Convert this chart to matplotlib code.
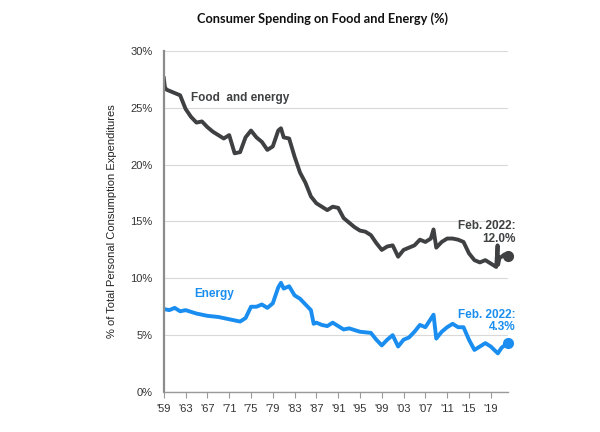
import matplotlib.pyplot as plt

plt.rcParams['font.family'] = ['Liberation Sans', 'DejaVu Sans']

# food and energy share of PCE (%)
fe_years = [1959.0, 1959.2, 1959.5, 1960, 1961, 1962, 1963, 1964, 1965, 1966, 1967,
            1968, 1969, 1970, 1971, 1972, 1973, 1974, 1975, 1976, 1977,
            1978, 1979, 1980, 1980.5, 1981, 1982, 1983, 1984, 1985, 1986,
            1987, 1988, 1989, 1990, 1991, 1992, 1993, 1994, 1995, 1996,
            1997, 1998, 1999, 2000, 2001, 2002, 2003, 2004, 2005, 2006,
            2007, 2008, 2008.5, 2009, 2010, 2011, 2012, 2013, 2014, 2015,
            2016, 2017, 2018, 2019, 2020.0, 2020.25, 2020.35, 2020.6, 2021, 2021.5, 2022.1]
fe_vals = [27.6, 26.8, 26.6, 26.5, 26.3, 26.1, 24.9, 24.2, 23.7, 23.8, 23.3,
           22.9, 22.6, 22.3, 22.6, 21.0, 21.1, 22.4, 23.0, 22.4, 22.0,
           21.3, 21.6, 23.0, 23.2, 22.4, 22.3, 20.7, 19.3, 18.4, 17.2,
           16.6, 16.3, 16.0, 16.3, 16.2, 15.3, 14.9, 14.5, 14.2, 14.1,
           13.8, 13.1, 12.5, 12.8, 12.9, 11.9, 12.5, 12.7, 12.9, 13.4,
           13.2, 13.5, 14.3, 12.7, 13.2, 13.5, 13.5, 13.4, 13.2, 12.2,
           11.6, 11.4, 11.6, 11.3, 11.0, 12.9, 11.2, 11.8, 11.9, 12.1, 12.0]

# energy share of PCE (%)
en_years = [1959, 1960, 1961, 1962, 1963, 1965, 1967, 1969, 1971, 1973, 1974,
            1975, 1976, 1977, 1978, 1979, 1980, 1980.5, 1981, 1982, 1983, 1984,
            1985, 1986, 1986.5, 1987, 1988, 1989, 1990, 1991, 1992, 1993, 1995,
            1997, 1998, 1999, 2000, 2001, 2002, 2003, 2004, 2005, 2006, 2007,
            2008.5, 2009, 2010, 2011, 2012, 2013, 2014, 2015, 2016, 2017, 2018,
            2019, 2020.3, 2021, 2022.1]
en_vals = [7.3, 7.2, 7.4, 7.1, 7.2, 6.9, 6.7, 6.6, 6.4, 6.2, 6.5,
           7.5, 7.5, 7.7, 7.4, 7.8, 9.2, 9.6, 9.1, 9.3, 8.5, 8.2,
           7.7, 7.2, 6.0, 6.1, 5.9, 5.8, 6.1, 5.8, 5.5, 5.6, 5.3,
           5.2, 4.6, 4.1, 4.6, 5.0, 4.0, 4.6, 4.8, 5.3, 5.9, 5.7,
           6.8, 4.7, 5.3, 5.7, 6.0, 5.7, 5.7, 4.6, 3.7, 4.0, 4.3,
           4.0, 3.4, 3.9, 4.3]

tick_years = list(range(1959, 2020, 4))
tick_labels = ["'%02d" % (y % 100) for y in tick_years]

fe_color = '#3f4042'
en_color = '#1a8ef0'

fig = plt.figure(figsize=(6, 4.32), dpi=100)
ax = fig.add_axes([0.273, 0.0926, 0.574, 0.7894])

ax.plot(fe_years, fe_vals, color=fe_color, lw=2.8, solid_joinstyle='round')
ax.plot(en_years, en_vals, color=en_color, lw=2.8, solid_joinstyle='round')
ax.plot(fe_years[-1], fe_vals[-1], 'o', color=fe_color, ms=7, clip_on=False)
ax.plot(en_years[-1], en_vals[-1], 'o', color=en_color, ms=7, clip_on=False)

ax.set_xlim(1959, 2022.2)
ax.set_ylim(0, 30)
ax.set_yticks(range(0, 31, 5))
ax.set_yticklabels(['%d%%' % v for v in range(0, 31, 5)])
ax.set_xticks(tick_years)
ax.set_xticklabels(tick_labels)
ax.grid(axis='y', color='#d9d9d9', lw=0.8)
ax.set_axisbelow(True)
for s in ['top', 'right']:
    ax.spines[s].set_visible(False)
ax.spines['left'].set_color('#8c8c8c')
ax.spines['left'].set_linewidth(1.6)
ax.spines['bottom'].set_color('#9a9a9a')
ax.spines['bottom'].set_linewidth(1.0)
ax.tick_params(axis='y', length=0, labelsize=8, colors='#333333', pad=8)
ax.tick_params(axis='x', length=4, color='#9a9a9a', labelsize=8, labelcolor='#333333', pad=5)

ax.set_ylabel('% of Total Personal Consumption Expenditures', fontsize=8, color='#222222', labelpad=10)

ax.text(1964.0, 25.9, 'Food  and energy', fontsize=8.5, color=fe_color, fontweight='bold', va='center')
ax.text(1964.5, 8.6, 'Energy', fontsize=8.5, color=en_color, fontweight='bold', va='center')
ax.text(2023.5, 14.0, 'Feb. 2022:\n12.0%', fontsize=8.5, color=fe_color, fontweight='bold',
        ha='right', va='center', linespacing=1.1)
ax.text(2023.5, 6.25, 'Feb. 2022:\n4.3%', fontsize=8.5, color=en_color, fontweight='bold',
        ha='right', va='center', linespacing=1.1)

fig.text(0.537, 0.956, 'Consumer Spending on Food and Energy (%)', fontsize=9.2,
         fontweight='bold', ha='center', va='center', color='#111111', family='Lato')

fig.savefig('out.png', dpi=100)
